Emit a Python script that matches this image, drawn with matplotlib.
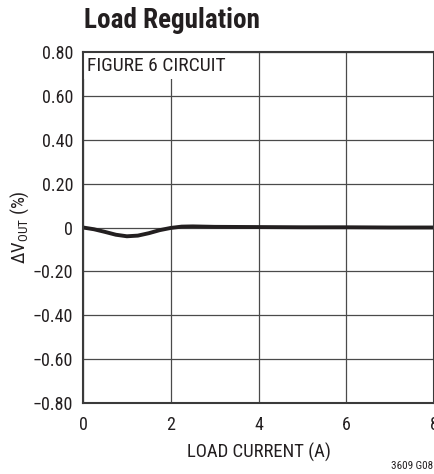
import numpy as np
import matplotlib.pyplot as plt

plt.rcParams['font.family'] = ['Roboto Condensed', 'Archivo Narrow', 'Liberation Sans', 'DejaVu Sans']

# load regulation curve
load_current = [0, 0.25, 0.5, 0.75, 1.0, 1.25, 1.5, 1.75, 2.0, 2.25, 2.5, 3.0, 4.0, 5.0, 6.0, 7.0, 8.0]
delta_vout = [0, -0.008, -0.02, -0.033, -0.04, -0.037, -0.026, -0.012, -0.002, 0.004, 0.005, 0.003, 0.002, 0.001, 0.001, 0.0, 0.0]

xticks = [0, 2, 4, 6, 8]
yticks = [-0.8, -0.6, -0.4, -0.2, 0, 0.2, 0.4, 0.6, 0.8]
ytick_labels = ['\u22120.80', '\u22120.60', '\u22120.40', '\u22120.20', '0', '0.20', '0.40', '0.60', '0.80']

fig = plt.figure(figsize=(4.35, 4.74), dpi=100)
W, H = 435, 474
ax = fig.add_axes([83 / W, 1 - 403 / H, 351 / W, 351 / H])

ax.plot(load_current, delta_vout, color='#231f20', linewidth=2.8, solid_capstyle='butt', zorder=3)

ax.set_xlim(0, 8)
ax.set_ylim(-0.8, 0.8)
ax.set_xticks(xticks)
ax.set_yticks(yticks)
ax.set_yticklabels(ytick_labels)
ax.tick_params(axis='both', length=0, labelsize=13, colors='#231f20')
ax.tick_params(axis='y', pad=7)
ax.tick_params(axis='x', pad=9)
ax.grid(True, color='#4a4a4a', linewidth=0.9)
ax.set_axisbelow(True)
for s in ax.spines.values():
    s.set_color('#3a3a3a')
    s.set_linewidth(1.5)
    s.set_zorder(5)

ax.set_xlabel('LOAD CURRENT (A)', fontsize=13.5, color='#231f20', labelpad=7)
ax.set_ylabel('\u0394V$_{\\mathregular{OUT}}$ (%)', fontsize=13.5, color='#231f20', labelpad=1)

ax.text(0.012, 0.985, 'FIGURE 6 CIRCUIT', transform=ax.transAxes, fontsize=14,
        color='#231f20', va='top', ha='left', zorder=4,
        bbox=dict(facecolor='white', edgecolor='none', pad=3))

fig.text(84 / W, 1 - 20 / H, 'Load Regulation', fontsize=19.5, fontweight='bold',
         color='#231f20', ha='left', va='center')
fig.text(433 / W, 1 - 466 / H, '3609 G08', fontsize=8, color='#231f20', ha='right', va='center')

fig.savefig('out.png', dpi=100)
